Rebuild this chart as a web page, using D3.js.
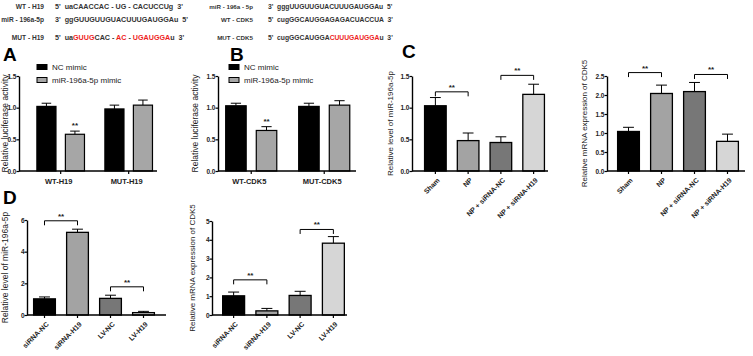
<!DOCTYPE html>
<html>
<head>
<meta charset="utf-8">
<script src="https://cdn.jsdelivr.net/npm/d3@7"></script>
<style>
  body { margin: 0; background: #fff; }
  svg { display: block; font-family: "Liberation Sans", Arial, sans-serif; }
</style>
</head>
<body>
<div id="chart"></div>
<script>
// sequence alignments (text segments, red = mutated / seed)
const seqLabelsLeft = ["WT - H19", "miR - 196a-5p", "MUT - H19"];
const seqRowsLeft = [
  [["5'  uaCAACCAC - UG - CACUCCUg  3'", false]],
  [["3'  ggGUUGUUGUACUUUGAUGGAu  5'", false]],
  [["5'  ua", false], ["GUUG", true], ["CAC - ", false], ["AC", true], [" - ", false], ["UGAUGGA", true], ["u  3'", false]]
];
const seqLabelsRight = ["miR - 196a - 5p", "WT - CDK5", "MUT - CDK5"];
const seqRowsRight = [
  [["3'  gggUUGUUGUACUUUGAUGGAu  5'", false]],
  [["5'  cugGGCAUGGAGAGACUACCUA  3'", false]],
  [["5'  cugGGCAUGGA", false], ["CUUUGAUGGA", true], ["u  3'", false]]
];

// A / B luciferase
const lucSeries = ["NC mimic", "miR-196a-5p mimic"];
const lucGroupsA = ["WT-H19", "MUT-H19"];
const lucValuesA = [[1.02, 0.58], [0.98, 1.04]];
const lucErrorsA = [[0.05, 0.05], [0.06, 0.08]];
const lucGroupsB = ["WT-CDK5", "MUT-CDK5"];
const lucValuesB = [[1.03, 0.64], [1.02, 1.04]];
const lucErrorsB = [[0.04, 0.06], [0.05, 0.07]];
const lucStars = [[0, 1]]; // group, series
const lucTicks = [0, 0.5, 1.0, 1.5];

// C
const npGroups = ["Sham", "NP", "NP + siRNA-NC", "NP + siRNA-H19"];
const npMir = [1.03, 0.48, 0.45, 1.21];
const npMirErr = [0.13, 0.12, 0.09, 0.16];
const npMirSig = [[0, 1, 1.25], [2, 3, 1.51]];
const npMirTicks = [0, 0.5, 1.0, 1.5];
const npCdk5 = [1.04, 2.04, 2.09, 0.78];
const npCdk5Err = [0.11, 0.22, 0.24, 0.19];
const npCdk5Sig = [[0, 1, 2.59], [2, 3, 2.54]];
const npCdk5Ticks = [0, 0.5, 1.0, 1.5, 2.0, 2.5];

// D
const cellGroups = ["siRNA-NC", "siRNA-H19", "LV-NC", "LV-H19"];
const cellMir = [1.02, 5.22, 1.05, 0.15];
const cellMirErr = [0.12, 0.2, 0.2, 0.08];
const cellMirSig = [[0, 1, 5.95], [2, 3, 1.78]];
const cellMirTicks = [0, 2, 4, 6];
const cellCdk5 = [1.02, 0.22, 1.04, 3.82];
const cellCdk5Err = [0.2, 0.13, 0.22, 0.35];
const cellCdk5Sig = [[0, 1, 1.87], [2, 3, 4.55]];
const cellCdk5Ticks = [0, 1, 2, 3, 4, 5];

const lucColors = ["#000000", "#a6a6a6"];
const fourColors = ["#000000", "#a3a3a3", "#777777", "#d6d6d6"];

const width = 753, height = 356;
const svg = d3.select("#chart").append("svg")
  .attr("width", width).attr("height", height);
svg.append("rect").attr("width", width).attr("height", height).attr("fill", "#fff");

// --- sequences: font size fitted so one reference row spans the wanted width
function drawSeq(labels, rows, labelEnd, seqStart, ys, fitRow, fitWidth) {
  const labelNodes = [], seqNodes = [];
  labels.forEach((lab, i) => {
    labelNodes.push(svg.append("text").attr("x", labelEnd).attr("y", ys[i])
      .attr("text-anchor", "end").attr("font-size", 10).attr("font-weight", "bold")
      .attr("fill", "#333").text(lab));
    const t = svg.append("text").attr("x", seqStart).attr("y", ys[i])
      .attr("font-size", 10).attr("font-weight", "bold").attr("xml:space", "preserve");
    rows[i].forEach(([s, red]) => {
      t.append("tspan").attr("fill", red ? "#ee1c1c" : "#333").text(s);
    });
    seqNodes.push(t);
  });
  const len = seqNodes[fitRow].node().getComputedTextLength();
  const fs = Math.min(9, 10 * fitWidth / len);
  seqNodes.forEach(t => t.attr("font-size", fs));
  labelNodes.forEach(t => t.attr("font-size", fs * 0.92));
}
drawSeq(seqLabelsLeft, seqRowsLeft, 44, 55, [9, 22, 40], 0, 128);
drawSeq(seqLabelsRight, seqRowsRight, 253, 268, [9, 22, 40], 1, 125);

// panel letters
[["A", 3, 61], ["B", 230, 61], ["C", 402, 58], ["D", 3, 204]].forEach(([l, x, y]) => {
  svg.append("text").attr("x", x).attr("y", y).attr("font-size", 19)
    .attr("font-weight", "bold").text(l);
});

// --- shared axis helpers
function yAxis(g, y, x0, ticks, fmt) {
  const ax = g.append("g").attr("transform", `translate(${x0},0)`)
    .call(d3.axisLeft(y).tickValues(ticks).tickFormat(fmt).tickSize(2.5).tickSizeOuter(0));
  ax.select(".domain").attr("stroke-width", 1.4);
  ax.selectAll(".tick line").attr("stroke-width", 1.2);
  ax.selectAll("text").attr("font-size", 6.5).attr("font-weight", "bold")
    .attr("fill", "#222").attr("x", -2.5);
}

function yTitle(g, text, x, yMid, size) {
  g.append("text").attr("transform", `translate(${x},${yMid}) rotate(-90)`)
    .attr("text-anchor", "middle").attr("font-size", size).attr("fill", "#222").text(text);
}

function xLine(g, x0, x1, y0) {
  g.append("line").attr("x1", x0).attr("x2", x1).attr("y1", y0).attr("y2", y0)
    .attr("stroke", "#000").attr("stroke-width", 1.4);
}

function errBar(g, cx, yTop, yBar, half) {
  g.append("line").attr("x1", cx).attr("x2", cx).attr("y1", yBar).attr("y2", yTop)
    .attr("stroke", "#000").attr("stroke-width", 1);
  g.append("line").attr("x1", cx - half).attr("x2", cx + half).attr("y1", yTop).attr("y2", yTop)
    .attr("stroke", "#000").attr("stroke-width", 1);
}

function stars(g, cx, yBase) {
  g.append("text").attr("x", cx).attr("y", yBase).attr("text-anchor", "middle")
    .attr("font-size", 8).attr("font-weight", "bold").attr("fill", "#222").text("**");
}

// --- grouped luciferase panel
function lucPanel(cfg) {
  const g = svg.append("g");
  const y = d3.scaleLinear().domain([0, 1.5]).range([cfg.yBottom, cfg.yTop]);
  const x = d3.scaleBand().domain(cfg.groups).range(cfg.xRange);
  const xs = d3.scaleBand().domain(lucSeries)
    .range([x.bandwidth() * 0.16, x.bandwidth() * 0.86]).paddingInner(0.33);

  cfg.groups.forEach((grp, gi) => {
    lucSeries.forEach((s, si) => {
      const v = cfg.values[gi][si], e = cfg.errors[gi][si];
      const bx = x(grp) + xs(s), bw = xs.bandwidth(), cx = bx + bw / 2;
      errBar(g, cx, y(v + e), y(v), bw * 0.25);
      g.append("rect").attr("x", bx).attr("y", y(v)).attr("width", bw)
        .attr("height", y(0) - y(v)).attr("fill", lucColors[si])
        .attr("stroke", "#000").attr("stroke-width", 1.2);
    });
  });
  lucStars.forEach(([gi, si]) => {
    const cx = x(cfg.groups[gi]) + xs(lucSeries[si]) + xs.bandwidth() / 2;
    stars(g, cx, y(cfg.values[gi][si] + cfg.errors[gi][si]) - 3);
  });

  yAxis(g, y, cfg.axisX, lucTicks, d3.format(".1f"));
  xLine(g, cfg.axisX, cfg.axisEnd, cfg.yBottom);
  cfg.groups.forEach(grp => {
    const cx = x(grp) + x.bandwidth() * 0.51;
    g.append("line").attr("x1", cx).attr("x2", cx).attr("y1", cfg.yBottom)
      .attr("y2", cfg.yBottom + 3).attr("stroke", "#000").attr("stroke-width", 1.2);
    g.append("text").attr("x", cx - 2).attr("y", cfg.yBottom + 13).attr("text-anchor", "middle")
      .attr("font-size", 7.5).attr("font-weight", "bold").attr("fill", "#222").text(grp);
  });
  yTitle(g, "Relative luciferase activity", cfg.titleX, (cfg.yTop + cfg.yBottom) / 2, 8.5);

  // legend
  lucSeries.forEach((s, si) => {
    const ly = cfg.legendY + si * 13;
    g.append("rect").attr("x", cfg.legendX).attr("y", ly - 2.5).attr("width", 10).attr("height", 5)
      .attr("fill", lucColors[si]).attr("stroke", "#000").attr("stroke-width", 1);
    g.append("text").attr("x", cfg.legendX + 15).attr("y", ly + 3)
      .attr("font-size", 8).attr("fill", "#222").text(s);
  });
}

lucPanel({
  groups: lucGroupsA, values: lucValuesA, errors: lucErrorsA,
  yTop: 76, yBottom: 171, xRange: [26, 162], axisX: 19, axisEnd: 157,
  titleX: 8, legendX: 37, legendY: 67
});
lucPanel({
  groups: lucGroupsB, values: lucValuesB, errors: lucErrorsB,
  yTop: 76, yBottom: 171, xRange: [214, 360], axisX: 218, axisEnd: 356,
  titleX: 198, legendX: 229, legendY: 67
});

// --- four-bar panels
function barPanel(cfg) {
  const g = svg.append("g");
  const y = d3.scaleLinear().domain([0, cfg.max]).range([cfg.yBottom, cfg.yTop]);
  const x = d3.scaleBand().domain(cfg.groups).range(cfg.xRange)
    .paddingInner(0.34).paddingOuter(0.17);
  const bw = x.bandwidth();

  cfg.groups.forEach((grp, i) => {
    const v = cfg.values[i], e = cfg.errors[i], cx = x(grp) + bw / 2;
    errBar(g, cx, y(v + e), y(v), bw * 0.25);
    g.append("rect").attr("x", x(grp)).attr("y", y(v)).attr("width", bw)
      .attr("height", y(0) - y(v)).attr("fill", fourColors[i])
      .attr("stroke", "#000").attr("stroke-width", 1.3);
  });

  cfg.sig.forEach(([a, b, lvl]) => {
    const xa = x(cfg.groups[a]) + bw / 2, xb = x(cfg.groups[b]) + bw / 2, ly = y(lvl);
    g.append("path").attr("d", `M${xa},${ly + 4.5}V${ly}H${xb}V${ly + 4.5}`)
      .attr("fill", "none").attr("stroke", "#000").attr("stroke-width", 1);
    stars(g, (xa + xb) / 2, ly - 2);
  });

  yAxis(g, y, cfg.axisX, cfg.ticks, cfg.fmt);
  xLine(g, cfg.axisX, cfg.axisEnd, cfg.yBottom);
  cfg.groups.forEach(grp => {
    const cx = x(grp) + bw / 2;
    g.append("line").attr("x1", cx).attr("x2", cx).attr("y1", cfg.yBottom)
      .attr("y2", cfg.yBottom + 3).attr("stroke", "#000").attr("stroke-width", 1.2);
    g.append("text").attr("transform", `translate(${cx + 3},${cfg.yBottom + 8}) rotate(-45)`)
      .attr("text-anchor", "end").attr("dy", "0.35em")
      .attr("font-size", 7).attr("font-weight", "bold").attr("fill", "#222").text(grp);
  });
  yTitle(g, cfg.title, cfg.titleX, (cfg.yTop + cfg.yBottom) / 2, cfg.titleSize);
}

barPanel({
  groups: npGroups, values: npMir, errors: npMirErr, sig: npMirSig,
  max: 1.5, ticks: npMirTicks, fmt: d3.format(".1f"),
  yTop: 76, yBottom: 171, xRange: [419, 550], axisX: 412, axisEnd: 548,
  title: "Relative level of miR-196a-5p", titleX: 393, titleSize: 8
});
barPanel({
  groups: npGroups, values: npCdk5, errors: npCdk5Err, sig: npCdk5Sig,
  max: 2.5, ticks: npCdk5Ticks, fmt: d3.format(".1f"),
  yTop: 76, yBottom: 171, xRange: [612, 744], axisX: 607, axisEnd: 745,
  title: "Relative mRNA expression of CDK5", titleX: 587, titleSize: 8
});
barPanel({
  groups: cellGroups, values: cellMir, errors: cellMirErr, sig: cellMirSig,
  max: 6, ticks: cellMirTicks, fmt: d3.format("d"),
  yTop: 220, yBottom: 315, xRange: [28, 160], axisX: 27, axisEnd: 166,
  title: "Relative level of miR-196a-5p", titleX: 8, titleSize: 8.5
});
barPanel({
  groups: cellGroups, values: cellCdk5, errors: cellCdk5Err, sig: cellCdk5Sig,
  max: 5, ticks: cellCdk5Ticks, fmt: d3.format("d"),
  yTop: 221, yBottom: 315, xRange: [217, 350], axisX: 212, axisEnd: 347,
  title: "Relative mRNA expression of CDK5", titleX: 195, titleSize: 8
});
</script>
</body>
</html>
